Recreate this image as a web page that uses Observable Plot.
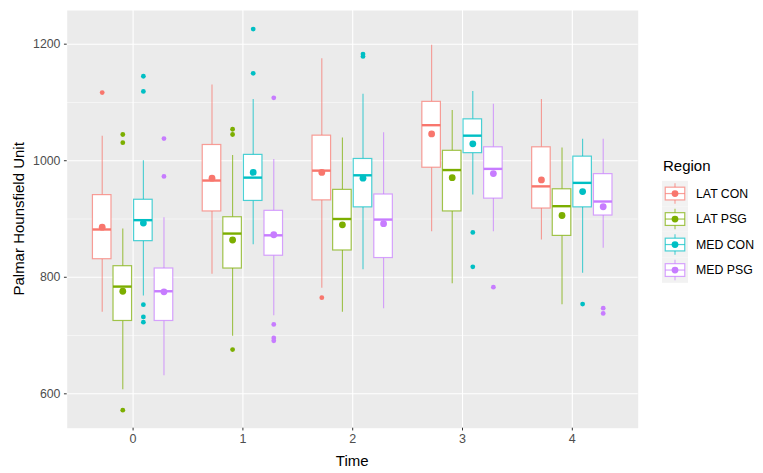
<!DOCTYPE html>
<html>
<head>
<meta charset="utf-8">
<script src="https://cdn.jsdelivr.net/npm/d3@7"></script>
<script src="https://cdn.jsdelivr.net/npm/@observablehq/plot@0.6"></script>
<style>
  body { margin: 0; background: #fff; }
  #chart { position: relative; width: 763px; height: 473px; }
</style>
</head>
<body>
<div id="chart"></div>
<script>
// Palmar Hounsfield Unit by time point and region: box summaries
const times = [0, 1, 2, 3, 4];
const regions = ["LAT CON", "LAT PSG", "MED CON", "MED PSG"];
const colors = ["#F8766D", "#7CAE00", "#00BFC4", "#C77CFF"];
const yTicks = [600, 800, 1000, 1200];

// one entry per time point, for each region
const lowerWhisker = {
  "LAT CON": [740, 805, 781, 878, 864],
  "LAT PSG": [607, 699, 740, 789, 753],
  "MED CON": [768, 856, 813, 941, 807],
  "MED PSG": [631, 734, 746, 878, 850]
};
const q1 = {
  "LAT CON": [831, 913, 932, 988, 918],
  "LAT PSG": [725, 815, 846, 913, 871],
  "MED CON": [862, 931, 920, 1013, 920],
  "MED PSG": [725, 837, 833, 935, 906]
};
const median = {
  "LAT CON": [882, 966, 983, 1061, 956],
  "LAT PSG": [784, 875, 900, 984, 922],
  "MED CON": [898, 971, 975, 1043, 962],
  "MED PSG": [776, 872, 899, 986, 930]
};
const q3 = {
  "LAT CON": [941, 1027, 1043, 1101, 1023],
  "LAT PSG": [819, 903, 950, 1017, 951],
  "MED CON": [933, 1010, 1003, 1071, 1007],
  "MED PSG": [815, 914, 942, 1023, 977]
};
const upperWhisker = {
  "LAT CON": [1042, 1130, 1175, 1198, 1105],
  "LAT PSG": [883, 1009, 1039, 1086, 1022],
  "MED CON": [1000, 1105, 1114, 1119, 1037],
  "MED PSG": [902, 1002, 1048, 1097, 1037]
};
const mean = {
  "LAT CON": [886, 970, 980, 1046, 967],
  "LAT PSG": [776, 864, 890, 971, 906],
  "MED CON": [893, 980, 970, 1029, 947],
  "MED PSG": [775, 873, 892, 978, 921]
};
const outliers = {
  "LAT CON": [[1117], [], [765], [], []],
  "LAT PSG": [[1045, 1031, 572], [1054, 1045, 676], [], [], []],
  "MED CON": [[1145, 1119, 753, 732, 723], [1226, 1150], [1183, 1179], [877, 818], [754]],
  "MED PSG": [[1038, 973], [1108, 719, 696, 691], [], [783], [747, 738]]
};

// dodged positions within each time point
const dodge = 0.75 / regions.length;
const boxW = dodge * 0.9;

const rows = [];
regions.forEach((r, i) => {
  times.forEach((t, j) => {
    rows.push({
      region: r, time: t,
      x: t + (i - (regions.length - 1) / 2) * dodge,
      lo: lowerWhisker[r][j], q1: q1[r][j], med: median[r][j],
      q3: q3[r][j], hi: upperWhisker[r][j], mean: mean[r][j],
      out: outliers[r][j]
    });
  });
});
const outRows = rows.flatMap(d => d.out.map(v => ({region: d.region, x: d.x, v})));

const font = "'Liberation Sans', Arial, sans-serif";
const W = 763, H = 473;
const mL = 66.7, mR = 125.3, mT = 10, mB = 45.3;

const chart = Plot.plot({
  width: W,
  height: H,
  marginLeft: mL,
  marginRight: mR,
  marginTop: mT,
  marginBottom: mB,
  style: {fontFamily: font, background: "white", overflow: "visible"},
  x: {domain: [-0.6, 4.6]},
  y: {domain: [541, 1257.8]},
  color: {domain: regions, range: colors},
  marks: [
    Plot.frame({fill: "#EBEBEB", stroke: null}),
    Plot.gridY([700, 900, 1100], {stroke: "#fff", strokeOpacity: 1, strokeWidth: 0.55}),
    Plot.gridY(yTicks, {stroke: "#fff", strokeOpacity: 1, strokeWidth: 1.1}),
    Plot.gridX(times, {stroke: "#fff", strokeOpacity: 1, strokeWidth: 1.1}),
    // whiskers
    Plot.ruleX(rows, {x: "x", y1: "q3", y2: "hi", stroke: "region", strokeOpacity: 0.7, strokeWidth: 1.1}),
    Plot.ruleX(rows, {x: "x", y1: "lo", y2: "q1", stroke: "region", strokeOpacity: 0.7, strokeWidth: 1.1}),
    // boxes
    Plot.rect(rows, {
      x1: d => d.x - boxW / 2, x2: d => d.x + boxW / 2, y1: "q1", y2: "q3",
      fill: "white", stroke: "region", strokeOpacity: 0.7, strokeWidth: 1.2
    }),
    // medians
    Plot.ruleY(rows, {
      x1: d => d.x - boxW / 2, x2: d => d.x + boxW / 2, y: "med",
      stroke: "region", strokeWidth: 2.4
    }),
    // outliers
    Plot.dot(outRows, {x: "x", y: "v", fill: "region", r: 2.4}),
    // means
    Plot.dot(rows, {x: "x", y: "mean", fill: "region", r: 3.4}),
    Plot.axisX({
      ticks: times, tickFormat: d => String(d), tickSize: 2.75, tickPadding: 3,
      stroke: "#333", fill: "#4D4D4D", fontSize: 12.5, label: null
    }),
    Plot.axisY({
      ticks: yTicks, tickFormat: d => String(d), tickSize: 2.75, tickPadding: 4,
      stroke: "#333", fill: "#4D4D4D", fontSize: 12.3, label: null
    })
  ]
});

document.getElementById("chart").appendChild(chart);

const svg = d3.select(chart);

// axis titles
svg.append("text")
  .attr("x", (mL + (W - mR)) / 2).attr("y", 466)
  .attr("text-anchor", "middle")
  .style("font-family", font).style("font-size", "15px").attr("fill", "#000")
  .text("Time");
svg.append("text")
  .attr("transform", `translate(23.5,${(mT + (H - mB)) / 2}) rotate(-90)`)
  .attr("text-anchor", "middle")
  .style("font-family", font).style("font-size", "15px").attr("fill", "#000")
  .text("Palmar Hounsfield Unit");

// legend
const lg = svg.append("g").attr("transform", "translate(662,0)").attr("text-anchor", "start");
lg.append("text")
  .attr("x", 1).attr("y", 171)
  .attr("text-anchor", "start")
  .style("font-family", font).style("font-size", "15px").attr("fill", "#000")
  .text("Region");
const keyW = 26, keyH = 25.5, key0 = 180.8;
regions.forEach((r, i) => {
  const y0 = key0 + i * keyH;
  const c = colors[i];
  const k = lg.append("g").attr("transform", `translate(0,${y0})`);
  k.append("rect").attr("width", keyW).attr("height", keyH).attr("fill", "#F2F2F2");
  k.append("line")
    .attr("x1", keyW / 2).attr("x2", keyW / 2)
    .attr("y1", keyH * 0.1).attr("y2", keyH * 0.9)
    .attr("stroke", c).attr("stroke-opacity", 0.7).attr("stroke-width", 1.1);
  k.append("rect")
    .attr("x", keyW * 0.125).attr("width", keyW * 0.75)
    .attr("y", keyH * 0.25).attr("height", keyH * 0.5)
    .attr("fill", "white").attr("stroke", c).attr("stroke-opacity", 0.7).attr("stroke-width", 1.2);
  k.append("line")
    .attr("x1", keyW * 0.125).attr("x2", keyW * 0.875)
    .attr("y1", keyH / 2).attr("y2", keyH / 2)
    .attr("stroke", c).attr("stroke-opacity", 0.7).attr("stroke-width", 1.2);
  k.append("circle")
    .attr("cx", keyW / 2).attr("cy", keyH / 2).attr("r", 3.4).attr("fill", c);
  k.append("text")
    .attr("x", 34).attr("y", keyH / 2 + 4.4)
    .attr("text-anchor", "start")
    .style("font-family", font).style("font-size", "12.3px").attr("fill", "#000")
    .text(r);
});
</script>
</body>
</html>
